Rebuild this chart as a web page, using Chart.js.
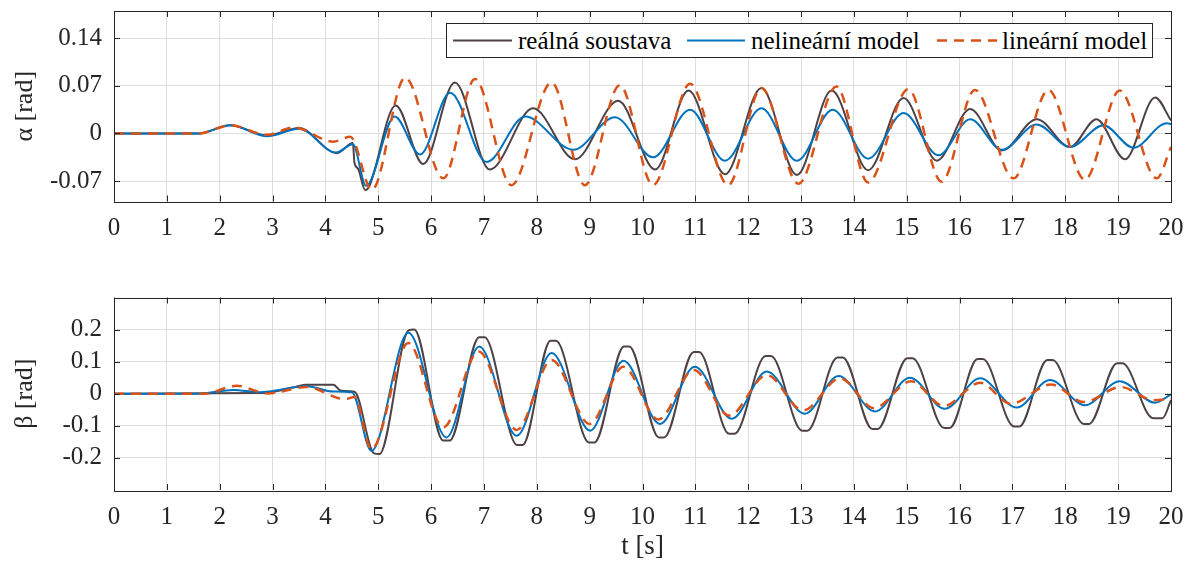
<!DOCTYPE html>
<html><head><meta charset="utf-8">
<script src="https://cdn.jsdelivr.net/npm/chart.js@4.4.0/dist/chart.umd.min.js"></script>
<style>
html,body{margin:0;padding:0;background:#fff;}
#wrap{position:relative;width:1196px;height:568px;overflow:hidden;font-family:'Liberation Serif','Times New Roman',serif;}
canvas{position:absolute;left:0;}
#legend{position:absolute;left:446px;top:23px;width:707px;height:35px;border:1px solid #262626;background:#fff;box-sizing:border-box;}
.lt{position:absolute;top:0;height:33px;line-height:33px;font-size:25px;color:#000;white-space:nowrap;}
.ls{position:absolute;top:0;}
</style></head>
<body>
<div id="wrap">
  <canvas id="cA" width="1196" height="260" style="top:0px"></canvas>
  <canvas id="cB" width="1196" height="308" style="top:260px"></canvas>
  <div id="legend">
    <svg class="ls" style="left:6px" width="60" height="33"><line x1="0" y1="16.5" x2="59" y2="16.5" stroke="#4e4247" stroke-width="2"/></svg>
    <span class="lt" id="lg0" style="left:71px"></span>
    <svg class="ls" style="left:240px" width="60" height="33"><line x1="0" y1="16.5" x2="58" y2="16.5" stroke="#0072BD" stroke-width="2"/></svg>
    <span class="lt" id="lg1" style="left:304px"></span>
    <svg class="ls" style="left:490px" width="62" height="33"><line x1="0" y1="16.5" x2="60" y2="16.5" stroke="#D95319" stroke-width="2.5" stroke-dasharray="10 7"/></svg>
    <span class="lt" id="lg2" style="left:555px"></span>
  </div>
</div>
<script>
// ---------- data ----------
const seriesNames = ['reálná soustava', 'nelineární model', 'lineární model'];

const xTickValues = [0,1,2,3,4,5,6,7,8,9,10,11,12,13,14,15,16,17,18,19,20];
const alphaTickValues = [-0.07, 0, 0.07, 0.14];
const alphaTickLabels = ['-0.07', '0', '0.07', '0.14'];
const betaTickValues = [-0.2, -0.1, 0, 0.1, 0.2];
const betaTickLabels = ['-0.2', '-0.1', '0', '0.1', '0.2'];

// alpha – real system
const alphaRealT = [0, 1.6, 2.2, 2.9, 3.5, 4.22, 4.52, 4.55, 4.62, 4.75, 4.82, 5.33, 5.85, 6.45, 7.11, 7.24, 7.93, 8.72, 9.54, 10.24, 10.87, 11.56, 12.25, 12.92, 13.58, 14.27, 14.94, 15.57, 16.2, 16.8, 17.46, 18.09, 18.59, 19.13, 19.7, 20];
const alphaRealV = [0, 0, 0.012, -0.003, 0.008, -0.029, -0.014, -0.043, -0.052, -0.083, -0.079, 0.041, -0.045, 0.075, -0.053, -0.047, 0.037, -0.038, 0.048, -0.053, 0.063, -0.060, 0.067, -0.061, 0.063, -0.054, 0.052, -0.040, 0.036, -0.025, 0.021, -0.020, 0.021, -0.038, 0.053, 0.019];
// alpha – nonlinear model
const alphaNonlinT = [0, 1.6, 2.2, 2.9, 3.5, 4.2, 4.52, 4.77, 5.31, 5.79, 6.36, 7.05, 7.78, 8.69, 9.48, 10.2, 10.9, 11.56, 12.25, 12.92, 13.6, 14.27, 14.94, 15.6, 16.2, 16.8, 17.46, 18.09, 18.72, 19.29, 19.92, 20];
const alphaNonlinV = [0, 0, 0.012, -0.004, 0.007, -0.028, -0.016, -0.077, 0.025, -0.031, 0.060, -0.042, 0.025, -0.024, 0.024, -0.035, 0.035, -0.040, 0.037, -0.040, 0.035, -0.037, 0.030, -0.032, 0.021, -0.024, 0.013, -0.020, 0.012, -0.021, 0.015, 0.014];
// alpha – linear model
const alphaLinT = [0, 1.6, 2.2, 2.9, 3.4, 4.15, 4.47, 4.88, 5.51, 6.23, 6.83, 7.52, 8.28, 8.91, 9.57, 10.2, 10.9, 11.62, 12.25, 12.95, 13.67, 14.27, 15.03, 15.66, 16.29, 17.02, 17.68, 18.37, 19.03, 19.73, 20];
const alphaLinV = [0, 0, 0.012, -0.002, 0.009, -0.012, -0.005, -0.083, 0.082, -0.066, 0.080, -0.076, 0.075, -0.076, 0.071, -0.076, 0.073, -0.076, 0.067, -0.074, 0.069, -0.072, 0.065, -0.071, 0.064, -0.066, 0.064, -0.068, 0.063, -0.066, -0.020];

// beta – real system
const betaRealT = [0, 2.8, 3.4, 3.62, 4.15, 4.3, 4.55, 4.92, 5.02, 5.58, 5.68, 6.23, 6.35, 6.91, 7.01, 7.63, 7.73, 8.26, 8.36, 8.99, 9.09, 9.65, 9.75, 10.31, 10.41, 10.97, 11.07, 11.64, 11.74, 12.33, 12.43, 13.02, 13.12, 13.69, 13.79, 14.35, 14.45, 15.01, 15.11, 15.71, 15.81, 16.34, 16.44, 17.03, 17.13, 17.66, 17.76, 18.35, 18.45, 18.98, 19.08, 19.66, 19.84, 20];
const betaRealV = [0, 0.002, 0.020, 0.028, 0.028, 0.009, 0.006, -0.186, -0.188, 0.198, 0.200, -0.146, -0.146, 0.176, 0.176, -0.160, -0.160, 0.165, 0.165, -0.152, -0.152, 0.147, 0.147, -0.136, -0.136, 0.130, 0.130, -0.125, -0.125, 0.118, 0.118, -0.115, -0.115, 0.113, 0.113, -0.110, -0.110, 0.111, 0.111, -0.107, -0.107, 0.108, 0.108, -0.102, -0.102, 0.105, 0.105, -0.094, -0.094, 0.095, 0.095, -0.076, -0.076, -0.020];
// beta – nonlinear model
const betaNonlinT = [0, 1.6, 2.26, 2.75, 3.65, 4.15, 4.5, 4.87, 5.57, 6.29, 6.91, 7.62, 8.28, 9.01, 9.64, 10.33, 10.99, 11.69, 12.35, 13.07, 13.71, 14.4, 15.06, 15.72, 16.39, 17.08, 17.71, 18.37, 19.03, 19.7, 20];
const betaNonlinV = [0, 0, 0.012, 0.005, 0.023, 0.007, 0.005, -0.178, 0.190, -0.136, 0.147, -0.131, 0.127, -0.115, 0.103, -0.094, 0.084, -0.078, 0.069, -0.062, 0.055, -0.055, 0.050, -0.047, 0.048, -0.043, 0.043, -0.036, 0.039, -0.028, -0.002];
// beta – linear model
const betaLinT = [0, 1.7, 2.32, 2.9, 3.65, 4.37, 4.55, 4.87, 5.57, 6.23, 6.9, 7.62, 8.28, 9.0, 9.64, 10.3, 10.97, 11.64, 12.35, 13.04, 13.74, 14.38, 15.08, 15.7, 16.39, 16.97, 17.73, 18.35, 19.05, 19.67, 20];
const betaLinV = [0, 0, 0.025, 0.001, 0.021, -0.017, -0.010, -0.173, 0.158, -0.105, 0.132, -0.113, 0.105, -0.094, 0.084, -0.080, 0.074, -0.068, 0.058, -0.052, 0.048, -0.045, 0.039, -0.038, 0.034, -0.031, 0.029, -0.026, 0.021, -0.020, -0.015];

// ---------- styling ----------
const C_REAL = '#4e4247', C_NONLIN = '#0072BD', C_LIN = '#D95319';
const AX = '#262626', GRID = '#dedede';
const FONT = "'Liberation Serif', 'Times New Roman', serif";

document.getElementById('lg0').textContent = seriesNames[0];
document.getElementById('lg1').textContent = seriesNames[1];
document.getElementById('lg2').textContent = seriesNames[2];

function pts(T, V) { return T.map((t, i) => ({x: t, y: V[i]})); }

const boxPlugin = {
  id: 'matlabBox',
  afterDraw(chart) {
    const {ctx, chartArea: a, scales} = chart;
    ctx.save();
    ctx.strokeStyle = AX; ctx.lineWidth = 1;
    ctx.beginPath();
    scales.x.ticks.forEach(t => {
      const px = Math.round(scales.x.getPixelForValue(t.value)) + 0.5;
      ctx.moveTo(px, a.bottom); ctx.lineTo(px, a.bottom - 6);
      ctx.moveTo(px, a.top); ctx.lineTo(px, a.top + 6);
    });
    scales.y.ticks.forEach(t => {
      const py = Math.round(scales.y.getPixelForValue(t.value)) + 0.5;
      ctx.moveTo(a.left, py); ctx.lineTo(a.left + 6, py);
      ctx.moveTo(a.right, py); ctx.lineTo(a.right - 6, py);
    });
    ctx.stroke();
    ctx.strokeRect(Math.round(a.left) + 0.5, Math.round(a.top) + 0.5, Math.round(a.right - a.left), Math.round(a.bottom - a.top));
    ctx.restore();
  }
};

function makeChart(id, sets, yMin, yMax, yTicks, yLabels, yTitle, xTitle, padTop, xHeight) {
  const ds = [
    {label: seriesNames[0], data: pts(sets[0][0], sets[0][1]), borderColor: C_REAL, borderWidth: 2, order: 3},
    {label: seriesNames[1], data: pts(sets[1][0], sets[1][1]), borderColor: C_NONLIN, borderWidth: 2, order: 2},
    {label: seriesNames[2], data: pts(sets[2][0], sets[2][1]), borderColor: C_LIN, borderWidth: 2.5, borderDash: [10, 7], order: 1}
  ].map(d => Object.assign(d, {pointRadius: 0, fill: false, cubicInterpolationMode: 'monotone', backgroundColor: d.borderColor}));
  return new Chart(document.getElementById(id), {
    type: 'line',
    data: {datasets: ds},
    options: {
      responsive: false, animation: false, devicePixelRatio: 1,
      layout: {padding: {top: padTop, right: 25, left: 0, bottom: 0}},
      plugins: {legend: {display: false}, tooltip: {enabled: false}},
      scales: {
        x: {
          type: 'linear', min: 0, max: 20,
          afterBuildTicks: s => { s.ticks = xTickValues.map(v => ({value: v})); },
          afterFit: s => { s.height = xHeight; s.paddingLeft = 0; s.paddingRight = 0; },
          grid: {color: GRID, drawTicks: false},
          border: {display: false},
          ticks: {color: AX, padding: 12, maxRotation: 0, autoSkip: false, font: {family: FONT, size: 25},
                  callback: v => String(v)},
          title: xTitle ? {display: true, text: xTitle, color: AX, font: {family: FONT, size: 27}, padding: {top: 0, bottom: 5}} : {display: false}
        },
        y: {
          type: 'linear', min: yMin, max: yMax,
          afterBuildTicks: s => { s.ticks = yTicks.map(v => ({value: v})); },
          afterFit: s => { s.width = 114; s.paddingTop = 0; s.paddingBottom = 0; },
          grid: {color: GRID, drawTicks: false},
          border: {display: false},
          ticks: {color: AX, padding: 12, autoSkip: false, font: {family: FONT, size: 25},
                  callback: v => { const i = yTicks.findIndex(t => Math.abs(t - v) < 1e-9); return i >= 0 ? yLabels[i] : ''; }},
          title: {display: true, text: yTitle, color: AX, font: {family: FONT, size: 26}, padding: {top: 10, bottom: 0}}
        }
      }
    },
    plugins: [boxPlugin]
  });
}

makeChart('cA', [[alphaRealT, alphaRealV], [alphaNonlinT, alphaNonlinV], [alphaLinT, alphaLinV]],
  -0.1, 0.18, alphaTickValues, alphaTickLabels, 'α [rad]', null, 11, 58.5);
makeChart('cB', [[betaRealT, betaRealV], [betaNonlinT, betaNonlinV], [betaLinT, betaLinV]],
  -0.3, 0.3, betaTickValues, betaTickLabels, 'β [rad]', 't [s]', 37.5, 78);
</script>
</body></html>
